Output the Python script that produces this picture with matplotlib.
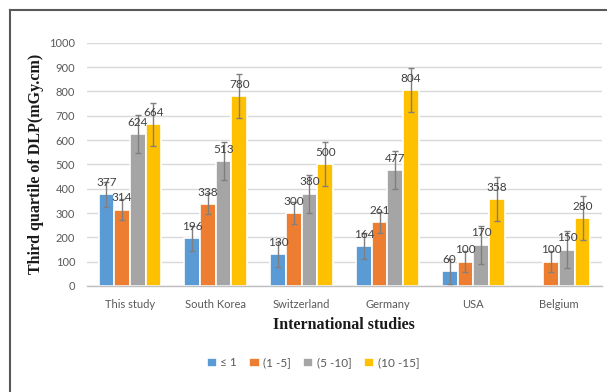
import numpy as np
import matplotlib
matplotlib.use("Agg")
import matplotlib.pyplot as plt
from matplotlib.lines import Line2D

# Third quartile DLP values per study and age group
studies = ["This study", "South Korea", "Switzerland", "Germany", "USA", "Belgium"]
age_groups = ["\u2264 1", "(1 -5]", "(5 -10]", "(10 -15]"]
dlp_le1 = [377, 196, 130, 164, 60, np.nan]
dlp_1_5 = [314, 338, 300, 261, 100, 100]
dlp_5_10 = [624, 513, 380, 477, 170, 150]
dlp_10_15 = [664, 780, 500, 804, 358, 280]
series = [dlp_le1, dlp_1_5, dlp_5_10, dlp_10_15]

# Error bar half-widths per age group
err_le1 = 52
err_1_5 = 44
err_5_10 = 78
err_10_15 = 90
errors = [err_le1, err_1_5, err_5_10, err_10_15]

yticks = list(range(0, 1001, 100))
colors = ["#5B9BD5", "#ED7D31", "#A5A5A5", "#FFC000"]

W, H = 607, 392
fig = plt.figure(figsize=(W / 100, H / 100), dpi=100)
ax = fig.add_axes([87 / W, 1 - 286 / H, (602 - 87) / W, (286 - 42.7) / H])

sans = ["Lato", "DejaVu Sans"]
x = np.arange(len(studies))
step = 0.183
for i, (vals, err, col, name) in enumerate(zip(series, errors, colors, age_groups)):
    pos = x + (i - 1.5) * step
    v = np.array(vals, dtype=float)
    ok = ~np.isnan(v)
    ax.bar(pos[ok], v[ok], width=step, color=col, edgecolor="white",
           linewidth=1.2, label=name, zorder=2)
    ax.errorbar(pos[ok], v[ok], yerr=err, fmt="none", ecolor="#7F7F7F",
                elinewidth=1.0, capsize=2.5, capthick=1.0, zorder=3)
    for px, pv in zip(pos[ok], v[ok]):
        ax.annotate(f"{pv:.0f}", (px, pv), xytext=(0, 4.5),
                    textcoords="offset points", ha="center", va="bottom",
                    fontsize=8.5, color="#404040", family=sans, zorder=4)

ax.set_xlim(-0.5, len(studies) - 0.5)
ax.set_ylim(0, 1000)
ax.set_yticks(yticks)
ax.set_xticks(x)
ax.set_xticklabels(studies)
ax.yaxis.grid(True, color="#D9D9D9", linewidth=1.0, zorder=0)
ax.set_axisbelow(True)
for s in ["top", "right", "left"]:
    ax.spines[s].set_visible(False)
ax.spines["bottom"].set_color("#BFBFBF")
ax.spines["bottom"].set_linewidth(1.0)
ax.tick_params(axis="both", length=0, labelsize=8, labelcolor="#595959")
ax.tick_params(axis="y", pad=8.5)
ax.tick_params(axis="x", pad=9)
for lab in ax.get_xticklabels() + ax.get_yticklabels():
    lab.set_family(sans)

fig.text(36 / W, 1 - 164 / H, "Third quartile of DLP(mGy.cm)", rotation=90,
         ha="center", va="center", fontsize=11.5, fontweight="bold",
         family="Liberation Serif", color="#1a1a1a")
fig.text(344 / W, 1 - 325 / H, "International studies", ha="center",
         va="center", fontsize=11.5, fontweight="bold",
         family="Liberation Serif", color="#1a1a1a")

fig.legend(loc="center", bbox_to_anchor=(313 / W, 1 - 363 / H), ncol=4,
           frameon=False, handlelength=0.85, handleheight=0.85,
           handletextpad=0.3, columnspacing=1.05,
           prop={"family": sans, "size": 8.5}, labelcolor="#595959")

# Outer chart frame (top and left edges)
fig.add_artist(Line2D([10 / W, 10 / W], [0, 1 - 10 / H], transform=fig.transFigure,
                      color="#595959", linewidth=1.5))
fig.add_artist(Line2D([10 / W, 1], [1 - 10 / H, 1 - 10 / H], transform=fig.transFigure,
                      color="#595959", linewidth=1.5))

fig.savefig("out.png", dpi=100)
